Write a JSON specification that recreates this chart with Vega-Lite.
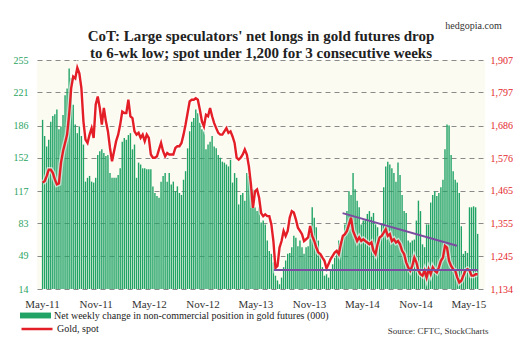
{
"$schema": "https://vega.github.io/schema/vega-lite/v6.json",
"width": 448,
"height": 229,
"autosize": {"type": "none"},
"padding": {"left": 37, "top": 60, "right": 47, "bottom": 67},
"background": "#ffffff",
"config": {"view": {"stroke": null, "fill": "#fcfbf1"}, "font": "Liberation Serif"},
"title": {"text": ["CoT: Large speculators' net longs in gold futures drop", "to 6-wk low; spot under 1,200 for 3 consecutive weeks"], "font": "Liberation Serif", "fontSize": 15, "fontWeight": "bold", "color": "#222222", "anchor": "middle", "frame": "group", "lineHeight": 17, "offset": -41},
"datasets": {
"cot": [
{"d":"2011-05-03","n":192,"g":1493},{"d":"2011-05-10","n":175,"g":1498},{"d":"2011-05-17","n":164,"g":1515},{"d":"2011-05-24","n":171,"g":1537},{"d":"2011-05-31","n":190,"g":1537},
{"d":"2011-06-07","n":196,"g":1526},{"d":"2011-06-14","n":198,"g":1504},{"d":"2011-06-21","n":203,"g":1487},{"d":"2011-06-28","n":182,"g":1490},
{"d":"2011-07-05","n":185,"g":1560},{"d":"2011-07-12","n":197,"g":1599},{"d":"2011-07-19","n":218,"g":1627},{"d":"2011-07-26","n":225,"g":1655},
{"d":"2011-08-02","n":246,"g":1722},{"d":"2011-08-09","n":236,"g":1812},{"d":"2011-08-16","n":208,"g":1851},{"d":"2011-08-23","n":187,"g":1845},{"d":"2011-08-30","n":178,"g":1881},
{"d":"2011-09-06","n":185,"g":1862},{"d":"2011-09-13","n":175,"g":1812},{"d":"2011-09-20","n":166,"g":1700},{"d":"2011-09-27","n":127,"g":1638},
{"d":"2011-10-04","n":131,"g":1627},{"d":"2011-10-11","n":133,"g":1655},{"d":"2011-10-18","n":127,"g":1677},{"d":"2011-10-25","n":126,"g":1644},
{"d":"2011-11-01","n":131,"g":1756},{"d":"2011-11-08","n":155,"g":1784},{"d":"2011-11-15","n":159,"g":1745},{"d":"2011-11-22","n":161,"g":1689},{"d":"2011-11-29","n":157,"g":1745},
{"d":"2011-12-06","n":154,"g":1700},{"d":"2011-12-13","n":155,"g":1666},{"d":"2011-12-20","n":136,"g":1610},{"d":"2011-12-27","n":131,"g":1565},
{"d":"2012-01-03","n":131,"g":1599},{"d":"2012-01-10","n":131,"g":1633},{"d":"2012-01-17","n":134,"g":1655},{"d":"2012-01-24","n":141,"g":1689},{"d":"2012-01-31","n":169,"g":1733},
{"d":"2012-02-07","n":173,"g":1728},{"d":"2012-02-14","n":171,"g":1728},{"d":"2012-02-21","n":176,"g":1773},{"d":"2012-02-28","n":178,"g":1717},
{"d":"2012-03-06","n":161,"g":1711},{"d":"2012-03-13","n":166,"g":1666},{"d":"2012-03-20","n":131,"g":1655},{"d":"2012-03-27","n":147,"g":1661},
{"d":"2012-04-03","n":145,"g":1644},{"d":"2012-04-10","n":141,"g":1655},{"d":"2012-04-17","n":141,"g":1633},{"d":"2012-04-24","n":140,"g":1655},
{"d":"2012-05-01","n":140,"g":1644},{"d":"2012-05-08","n":140,"g":1588},{"d":"2012-05-15","n":122,"g":1577},{"d":"2012-05-22","n":115,"g":1577},{"d":"2012-05-29","n":112,"g":1582},
{"d":"2012-06-05","n":110,"g":1605},{"d":"2012-06-12","n":127,"g":1627},{"d":"2012-06-19","n":133,"g":1599},{"d":"2012-06-26","n":136,"g":1582},
{"d":"2012-07-03","n":127,"g":1593},{"d":"2012-07-10","n":136,"g":1588},{"d":"2012-07-17","n":124,"g":1588},{"d":"2012-07-24","n":127,"g":1588},{"d":"2012-07-31","n":117,"g":1610},
{"d":"2012-08-07","n":122,"g":1616},{"d":"2012-08-14","n":115,"g":1616},{"d":"2012-08-21","n":113,"g":1627},{"d":"2012-08-28","n":129,"g":1655},
{"d":"2012-09-04","n":138,"g":1689},{"d":"2012-09-11","n":162,"g":1728},{"d":"2012-09-18","n":180,"g":1767},{"d":"2012-09-25","n":190,"g":1773},
{"d":"2012-10-02","n":194,"g":1773},{"d":"2012-10-09","n":203,"g":1778},{"d":"2012-10-16","n":199,"g":1773},{"d":"2012-10-23","n":189,"g":1739},{"d":"2012-10-30","n":182,"g":1700},
{"d":"2012-11-06","n":180,"g":1683},{"d":"2012-11-13","n":161,"g":1722},{"d":"2012-11-20","n":166,"g":1717},{"d":"2012-11-27","n":169,"g":1745},
{"d":"2012-12-04","n":175,"g":1717},{"d":"2012-12-11","n":164,"g":1694},{"d":"2012-12-18","n":162,"g":1677},{"d":"2012-12-25","n":155,"g":1661},
{"d":"2013-01-01","n":152,"g":1655},{"d":"2013-01-08","n":148,"g":1655},{"d":"2013-01-15","n":147,"g":1666},{"d":"2013-01-22","n":145,"g":1677},{"d":"2013-01-29","n":143,"g":1661},
{"d":"2013-02-05","n":150,"g":1666},{"d":"2013-02-12","n":126,"g":1649},{"d":"2013-02-19","n":136,"g":1627},{"d":"2013-02-26","n":131,"g":1577},
{"d":"2013-03-05","n":103,"g":1571},{"d":"2013-03-12","n":113,"g":1577},{"d":"2013-03-19","n":115,"g":1588},{"d":"2013-03-26","n":107,"g":1605},
{"d":"2013-04-02","n":136,"g":1588},{"d":"2013-04-09","n":133,"g":1548},{"d":"2013-04-16","n":120,"g":1487},{"d":"2013-04-23","n":119,"g":1408},{"d":"2013-04-30","n":100,"g":1464},
{"d":"2013-05-07","n":96,"g":1470},{"d":"2013-05-14","n":100,"g":1442},{"d":"2013-05-21","n":84,"g":1390},{"d":"2013-05-28","n":86,"g":1380},
{"d":"2013-06-04","n":82,"g":1386},{"d":"2013-06-11","n":65,"g":1380},{"d":"2013-06-18","n":54,"g":1380},{"d":"2013-06-25","n":51,"g":1352},
{"d":"2013-07-02","n":42,"g":1296},{"d":"2013-07-09","n":28,"g":1205},{"d":"2013-07-16","n":23,"g":1212},{"d":"2013-07-23","n":19,"g":1274},{"d":"2013-07-30","n":26,"g":1296},
{"d":"2013-08-06","n":37,"g":1330},{"d":"2013-08-13","n":44,"g":1313},{"d":"2013-08-20","n":51,"g":1330},{"d":"2013-08-27","n":52,"g":1375},
{"d":"2013-09-03","n":58,"g":1397},{"d":"2013-09-10","n":70,"g":1392},{"d":"2013-09-17","n":68,"g":1369},{"d":"2013-09-24","n":59,"g":1341},
{"d":"2013-10-01","n":65,"g":1330},{"d":"2013-10-08","n":58,"g":1319},{"d":"2013-10-15","n":51,"g":1296},{"d":"2013-10-22","n":58,"g":1302},{"d":"2013-10-29","n":59,"g":1308},
{"d":"2013-11-05","n":72,"g":1347},{"d":"2013-11-12","n":100,"g":1313},{"d":"2013-11-19","n":89,"g":1296},{"d":"2013-11-26","n":79,"g":1274},
{"d":"2013-12-03","n":65,"g":1257},{"d":"2013-12-10","n":51,"g":1252},{"d":"2013-12-17","n":37,"g":1240},{"d":"2013-12-24","n":28,"g":1229},{"d":"2013-12-31","n":30,"g":1203},
{"d":"2014-01-07","n":26,"g":1218},{"d":"2014-01-14","n":33,"g":1235},{"d":"2014-01-21","n":40,"g":1246},{"d":"2014-01-28","n":47,"g":1257},
{"d":"2014-02-04","n":54,"g":1263},{"d":"2014-02-11","n":65,"g":1252},{"d":"2014-02-18","n":63,"g":1285},{"d":"2014-02-25","n":68,"g":1313},
{"d":"2014-03-04","n":82,"g":1319},{"d":"2014-03-11","n":96,"g":1330},{"d":"2014-03-18","n":117,"g":1352},{"d":"2014-03-25","n":113,"g":1375},
{"d":"2014-04-01","n":136,"g":1330},{"d":"2014-04-08","n":119,"g":1313},{"d":"2014-04-15","n":107,"g":1296},{"d":"2014-04-22","n":100,"g":1308},{"d":"2014-04-29","n":82,"g":1296},
{"d":"2014-05-06","n":86,"g":1302},{"d":"2014-05-13","n":87,"g":1296},{"d":"2014-05-20","n":93,"g":1291},{"d":"2014-05-27","n":96,"g":1285},
{"d":"2014-06-03","n":90,"g":1291},{"d":"2014-06-10","n":94,"g":1263},{"d":"2014-06-17","n":82,"g":1252},{"d":"2014-06-24","n":79,"g":1285},
{"d":"2014-07-01","n":70,"g":1308},{"d":"2014-07-08","n":82,"g":1313},{"d":"2014-07-15","n":121,"g":1324},{"d":"2014-07-22","n":143,"g":1336},{"d":"2014-07-29","n":148,"g":1313},
{"d":"2014-08-05","n":145,"g":1319},{"d":"2014-08-12","n":141,"g":1296},{"d":"2014-08-19","n":136,"g":1302},{"d":"2014-08-26","n":127,"g":1291},
{"d":"2014-09-02","n":147,"g":1296},{"d":"2014-09-09","n":134,"g":1285},{"d":"2014-09-16","n":113,"g":1263},{"d":"2014-09-23","n":96,"g":1252},{"d":"2014-09-30","n":94,"g":1224},
{"d":"2014-10-07","n":65,"g":1207},{"d":"2014-10-14","n":63,"g":1196},{"d":"2014-10-21","n":65,"g":1212},{"d":"2014-10-28","n":66,"g":1240},
{"d":"2014-11-04","n":86,"g":1224},{"d":"2014-11-11","n":107,"g":1196},{"d":"2014-11-18","n":96,"g":1184},{"d":"2014-11-25","n":61,"g":1179},
{"d":"2014-12-02","n":58,"g":1196},{"d":"2014-12-09","n":82,"g":1173},{"d":"2014-12-16","n":82,"g":1201},{"d":"2014-12-23","n":105,"g":1184},{"d":"2014-12-30","n":113,"g":1207},
{"d":"2015-01-06","n":117,"g":1196},{"d":"2015-01-13","n":112,"g":1190},{"d":"2015-01-20","n":115,"g":1207},{"d":"2015-01-27","n":121,"g":1229},
{"d":"2015-02-03","n":129,"g":1240},{"d":"2015-02-10","n":161,"g":1280},{"d":"2015-02-17","n":187,"g":1274},{"d":"2015-02-24","n":186,"g":1229},
{"d":"2015-03-03","n":155,"g":1212},{"d":"2015-03-10","n":138,"g":1201},{"d":"2015-03-17","n":129,"g":1196},{"d":"2015-03-24","n":126,"g":1173},{"d":"2015-03-31","n":115,"g":1156},
{"d":"2015-04-07","n":80,"g":1162},{"d":"2015-04-14","n":51,"g":1179},{"d":"2015-04-21","n":54,"g":1196},{"d":"2015-04-28","n":52,"g":1201},
{"d":"2015-05-05","n":100,"g":1196},{"d":"2015-05-12","n":100,"g":1179},{"d":"2015-05-19","n":101,"g":1179},{"d":"2015-05-26","n":100,"g":1184},
{"d":"2015-06-02","n":72,"g":1184}
],
"trend": [
{"line":"support","d":"2013-07-04","g":1198},
{"line":"support","d":"2015-06-03","g":1198},
{"line":"resistance","d":"2014-02-24","g":1390},
{"line":"resistance","d":"2015-03-23","g":1280}
]
},
"resolve": {"scale": {"y": "independent"}},
"layer": [
{
"data": {"name": "cot"},
"mark": {"type": "bar", "size": 1.4, "clip": true},
"encoding": {
"x": {"field": "d", "type": "temporal",
"scale": {"type": "utc", "domain": [{"year": 2011, "month": 5, "date": 1, "utc": true}, {"year": 2015, "month": 6, "date": 10, "utc": true}]},
"axis": {"values": [{"year": 2011, "month": 5, "date": 1, "utc": true}, {"year": 2011, "month": 11, "date": 1, "utc": true}, {"year": 2012, "month": 5, "date": 1, "utc": true}, {"year": 2012, "month": 11, "date": 1, "utc": true}, {"year": 2013, "month": 5, "date": 1, "utc": true}, {"year": 2013, "month": 11, "date": 1, "utc": true}, {"year": 2014, "month": 5, "date": 1, "utc": true}, {"year": 2014, "month": 11, "date": 1, "utc": true}, {"year": 2015, "month": 5, "date": 1, "utc": true}],
"format": "%b-%y", "labelFont": "Liberation Serif", "labelFontSize": 11, "labelColor": "#333333", "ticks": false, "domain": false, "grid": false, "labelPadding": 9, "labelOverlap": false,
"title": "Source: CFTC, StockCharts", "titleFont": "Liberation Serif", "titleFontSize": 9, "titleFontWeight": "normal", "titleColor": "#333333", "titleAnchor": "end", "titleAlign": "right", "titleBaseline": "middle", "titleX": 451, "titleY": 41}},
"y": {"field": "n", "type": "quantitative",
"scale": {"domain": [14, 255], "nice": false, "zero": false},
"axis": {"values": [14, 49, 83, 117, 152, 186, 221, 255], "labelColor": "#2aa35f", "labelFont": "Liberation Serif", "labelFontSize": 10, "ticks": false, "domain": false, "grid": true, "gridColor": "#8a8a8a", "gridDash": [5, 4], "gridWidth": 1, "labelPadding": 9, "title": null}},
"y2": {"datum": 14},
"fill": {"datum": "Net weekly change in non-commercial position in gold futures (000)", "type": "nominal", "scale": {"range": ["#21a366"]},
"legend": {"orient": "none", "legendX": -17, "legendY": 240, "title": null, "symbolType": "M-1,-0.19H1V0.19H-1Z", "symbolSize": 961, "symbolStrokeWidth": 0, "labelFont": "Liberation Serif", "labelFontSize": 10, "labelColor": "#222222", "labelLimit": 400, "labelOffset": 3, "padding": 0}}
}
},
{
"layer": [
{
"data": {"name": "cot"},
"mark": {"type": "line", "color": "#ffffff", "strokeWidth": 5, "opacity": 0.6},
"encoding": {
"x": {"field": "d", "type": "temporal"},
"y": {"field": "g", "type": "quantitative", "scale": {"domain": [1134, 1907], "nice": false, "zero": false},
"axis": {"orient": "right", "values": [1134, 1245, 1355, 1465, 1576, 1686, 1797, 1907], "labelExpr": "format(datum.value, ',')", "labelColor": "#e3262b", "labelFont": "Liberation Serif", "labelFontSize": 10, "ticks": false, "domain": false, "grid": false, "labelPadding": 5,
"title": "hedgopia.com", "titleAngle": 0, "titleX": -12, "titleY": -35, "titleFont": "Liberation Serif", "titleFontSize": 10, "titleFontWeight": "normal", "titleColor": "#333333", "titleAlign": "center", "titleBaseline": "middle"}}
}
},
{
"data": {"name": "cot"},
"mark": {"type": "line", "strokeWidth": 2.4},
"encoding": {
"x": {"field": "d", "type": "temporal"},
"y": {"field": "g", "type": "quantitative", "scale": {"domain": [1134, 1907], "nice": false, "zero": false},
"axis": {"orient": "right", "values": [1134, 1245, 1355, 1465, 1576, 1686, 1797, 1907], "labelExpr": "format(datum.value, ',')", "labelColor": "#e3262b", "labelFont": "Liberation Serif", "labelFontSize": 10, "ticks": false, "domain": false, "grid": false, "labelPadding": 5,
"title": "hedgopia.com", "titleAngle": 0, "titleX": -12, "titleY": -35, "titleFont": "Liberation Serif", "titleFontSize": 10, "titleFontWeight": "normal", "titleColor": "#333333", "titleAlign": "center", "titleBaseline": "middle"}},
"stroke": {"datum": "Gold, spot", "type": "nominal", "scale": {"range": ["#e41e26"]},
"legend": {"orient": "none", "legendX": -17, "legendY": 252, "title": null, "symbolType": "stroke", "symbolSize": 961, "symbolStrokeWidth": 2.5, "labelFont": "Liberation Serif", "labelFontSize": 10, "labelColor": "#222222", "labelLimit": 400, "labelOffset": 3, "padding": 0}}
}
},
{
"data": {"name": "trend"},
"mark": {"type": "line", "color": "#7b4c9f", "strokeWidth": 2},
"encoding": {
"x": {"field": "d", "type": "temporal"},
"y": {"field": "g", "type": "quantitative", "scale": {"domain": [1134, 1907], "nice": false, "zero": false},
"axis": {"orient": "right", "values": [1134, 1245, 1355, 1465, 1576, 1686, 1797, 1907], "labelExpr": "format(datum.value, ',')", "labelColor": "#e3262b", "labelFont": "Liberation Serif", "labelFontSize": 10, "ticks": false, "domain": false, "grid": false, "labelPadding": 5,
"title": "hedgopia.com", "titleAngle": 0, "titleX": -12, "titleY": -35, "titleFont": "Liberation Serif", "titleFontSize": 10, "titleFontWeight": "normal", "titleColor": "#333333", "titleAlign": "center", "titleBaseline": "middle"}},
"detail": {"field": "line", "type": "nominal"}
}
}
]
}
]
}
